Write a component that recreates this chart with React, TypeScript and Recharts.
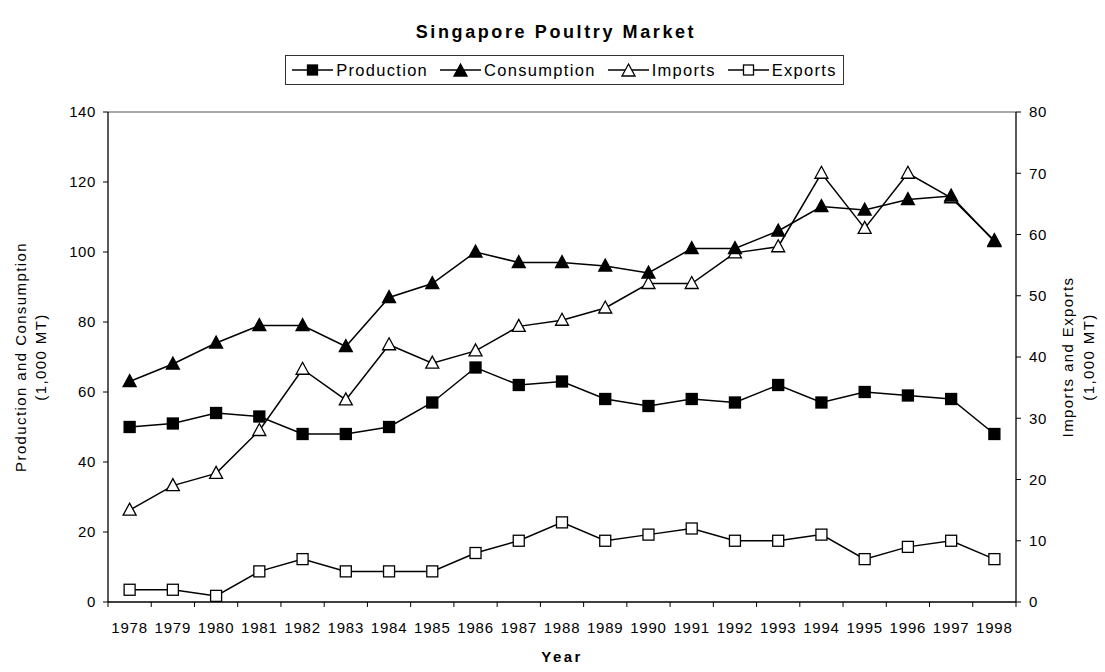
import React from "react";
import {
  LineChart,
  Line,
  XAxis,
  YAxis,
  Legend,
  ReferenceLine,
} from "recharts";

const years = [
  1978, 1979, 1980, 1981, 1982, 1983, 1984, 1985, 1986, 1987, 1988, 1989,
  1990, 1991, 1992, 1993, 1994, 1995, 1996, 1997, 1998,
];
const production = [
  50, 51, 54, 53, 48, 48, 50, 57, 67, 62, 63, 58, 56, 58, 57, 62, 57, 60, 59,
  58, 48,
];
const consumption = [
  63, 68, 74, 79, 79, 73, 87, 91, 100, 97, 97, 96, 94, 101, 101, 106, 113, 112,
  115, 116, 103,
];
const imports = [
  15, 19, 21, 28, 38, 33, 42, 39, 41, 45, 46, 48, 52, 52, 57, 58, 70, 61, 70,
  66, 59,
];
const exports = [
  2, 2, 1, 5, 7, 5, 5, 5, 8, 10, 13, 10, 11, 12, 10, 10, 11, 7, 9, 10, 7,
];
const leftTicks = [0, 20, 40, 60, 80, 100, 120, 140];
const rightTicks = [0, 10, 20, 30, 40, 50, 60, 70, 80];

const data = years.map((year, i) => ({
  year,
  production: production[i],
  consumption: consumption[i],
  imports: imports[i],
  exports: exports[i],
}));

// tick marks sit between the years, labels on the years
const boundaries = [...years.map((y) => y - 0.5), years[years.length - 1] + 0.5];
const xTicks = [...boundaries, ...years].sort((a, b) => a - b);

const FONT = "'Liberation Sans', Arial, sans-serif";

const squareShape = (cx: number, cy: number, filled: boolean, s = 5.5) => (
  <rect
    x={cx - s}
    y={cy - s}
    width={s * 2}
    height={s * 2}
    fill={filled ? "#000" : "#fff"}
    stroke="#000"
    strokeWidth={1.3}
  />
);

const triangleShape = (cx: number, cy: number, filled: boolean) => (
  <polygon
    points={`${cx},${cy - 7} ${cx + 6.5},${cy + 5} ${cx - 6.5},${cy + 5}`}
    fill={filled ? "#000" : "#fff"}
    stroke="#000"
    strokeWidth={1.3}
  />
);

const makeDot = (kind: "square" | "triangle", filled: boolean) => (props: any) => {
  const { cx, cy, index } = props;
  return (
    <g key={`dot-${kind}-${filled}-${index}`}>
      {kind === "square" ? squareShape(cx, cy, filled) : triangleShape(cx, cy, filled)}
    </g>
  );
};

const legendItems = [
  { name: "Production", kind: "square", filled: true },
  { name: "Consumption", kind: "triangle", filled: true },
  { name: "Imports", kind: "triangle", filled: false },
  { name: "Exports", kind: "square", filled: false },
] as const;

const LegendBox = () => (
  <div style={{ display: "flex", justifyContent: "center" }}>
    <div
      style={{
        display: "flex",
        alignItems: "center",
        border: "1px solid #333",
        height: 28,
        padding: "0 6px 0 5px",
        fontFamily: FONT,
        fontSize: 16.5,
        letterSpacing: 1.3,
        color: "#000",
      }}
    >
      {legendItems.map((it, i) => (
        <div
          key={it.name}
          style={{ display: "flex", alignItems: "center", marginRight: i < 3 ? 11 : 0 }}
        >
          <svg width={43} height={18}>
            <line x1={1} y1={9} x2={42} y2={9} stroke="#000" strokeWidth={1.5} />
            {it.kind === "square"
              ? squareShape(21.5, 9, it.filled, 5)
              : triangleShape(21.5, 10, it.filled)}
          </svg>
          <span style={{ marginLeft: 2 }}>{it.name}</span>
        </div>
      ))}
    </div>
  </div>
);

const XTick = (props: any) => {
  const { x, y, payload } = props;
  const v = payload.value;
  if (Number.isInteger(v)) {
    return (
      <text
        x={x}
        y={y + 31}
        textAnchor="middle"
        fontFamily={FONT}
        fontSize={15}
        letterSpacing={0.8}
        fill="#000"
      >
        {v}
      </text>
    );
  }
  return <line x1={x} y1={y} x2={x} y2={y + 5} stroke="#000" strokeWidth={1} />;
};

const sideLabel = (lines: string[], dx: number[]) => (props: any) => {
  const { viewBox } = props;
  const cy = viewBox.y + viewBox.height / 2;
  return (
    <g>
      {lines.map((t, i) => {
        const cx = viewBox.x + dx[i];
        return (
          <text
            key={t}
            x={cx}
            y={cy}
            transform={`rotate(-90, ${cx}, ${cy})`}
            textAnchor="middle"
            dominantBaseline="central"
            fontFamily={FONT}
            fontSize={15}
            letterSpacing={1.4}
            fill="#000"
          >
            {t}
          </text>
        );
      })}
    </g>
  );
};

const YearLabel = (props: any) => {
  const { viewBox } = props;
  return (
    <text
      x={viewBox.x + viewBox.width / 2}
      y={viewBox.y + 60}
      textAnchor="middle"
      fontFamily={FONT}
      fontSize={15}
      fontWeight="bold"
      letterSpacing={2.4}
      fill="#000"
    >
      Year
    </text>
  );
};

const tickStyle = { fontFamily: FONT, fontSize: 15, fill: "#000", letterSpacing: 0.6 };

const App = () => {
  return (
    <div style={{ position: "absolute", left: 0, top: 0, width: 1105, height: 672, background: "#fff" }}>
      <div
        style={{
          position: "absolute",
          top: 22,
          left: 0,
          width: 1112,
          textAlign: "center",
          fontFamily: FONT,
          fontWeight: "bold",
          fontSize: 18,
          letterSpacing: 2.6,
          color: "#000",
        }}
      >
        Singapore Poultry Market
      </div>
      <LineChart
        width={1105}
        height={672}
        data={data}
        margin={{ top: 82, right: 29, left: 48, bottom: 30 }}
      >
        <Legend
          verticalAlign="top"
          height={30}
          content={<LegendBox />}
          wrapperStyle={{ top: 55, left: 12, width: 1105 }}
        />
        <XAxis
          dataKey="year"
          type="number"
          domain={[1977.5, 1998.5]}
          ticks={xTicks}
          interval={0}
          tickLine={false}
          tickSize={0}
          tickMargin={0}
          tick={<XTick />}
          height={40}
          axisLine={{ stroke: "#000", strokeWidth: 1.3 }}
          label={{ content: <YearLabel /> }}
        />
        <YAxis
          yAxisId="left"
          domain={[0, 140]}
          ticks={leftTicks}
          width={60}
          tickSize={5}
          tickMargin={7}
          tick={tickStyle}
          tickLine={{ stroke: "#000" }}
          axisLine={{ stroke: "#000", strokeWidth: 1.3 }}
          label={{ content: sideLabel(["Production and Consumption", "(1,000 MT)"], [-28, -8]) }}
        />
        <YAxis
          yAxisId="right"
          orientation="right"
          domain={[0, 80]}
          ticks={rightTicks}
          width={60}
          tickSize={5}
          tickMargin={8}
          tick={tickStyle}
          tickLine={{ stroke: "#000" }}
          axisLine={{ stroke: "#000", strokeWidth: 1.3 }}
          label={{ content: sideLabel(["Imports and Exports", "(1,000 MT)"], [51, 72]) }}
        />
        <ReferenceLine yAxisId="left" y={140} stroke="#8a8a8a" strokeWidth={1.3} />
        <Line
          yAxisId="right"
          dataKey="exports"
          stroke="#000"
          strokeWidth={1.5}
          dot={makeDot("square", false)}
          isAnimationActive={false}
        />
        <Line
          yAxisId="right"
          dataKey="imports"
          stroke="#000"
          strokeWidth={1.5}
          dot={makeDot("triangle", false)}
          isAnimationActive={false}
        />
        <Line
          yAxisId="left"
          dataKey="production"
          stroke="#000"
          strokeWidth={1.5}
          dot={makeDot("square", true)}
          isAnimationActive={false}
        />
        <Line
          yAxisId="left"
          dataKey="consumption"
          stroke="#000"
          strokeWidth={1.5}
          dot={makeDot("triangle", true)}
          isAnimationActive={false}
        />
      </LineChart>
    </div>
  );
};

export default App;
